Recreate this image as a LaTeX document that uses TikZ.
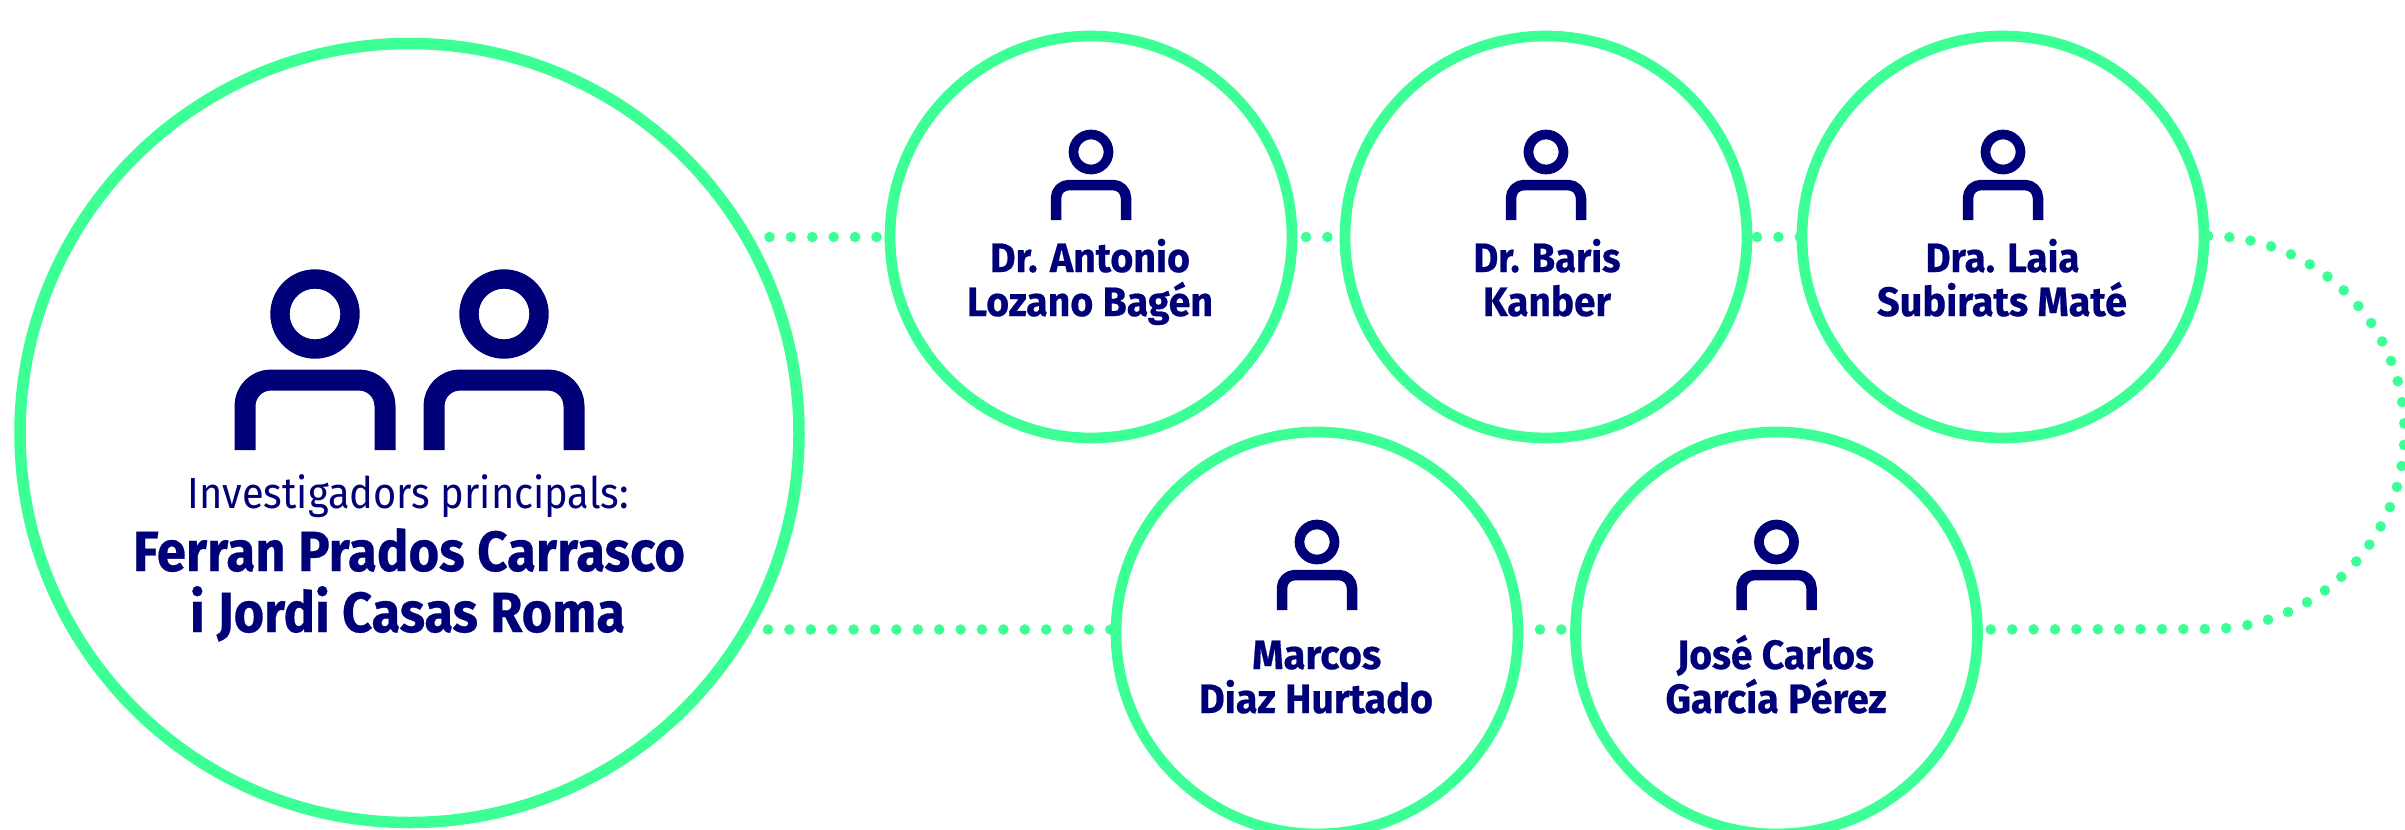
\documentclass[tikz,border=0pt]{standalone}
\usepackage{fontspec}
\usepackage{graphicx}
\setmainfont{Fira Sans}[BoldFeatures={FakeBold=0.5}]
\definecolor{ringgreen}{HTML}{3CFF96}
\definecolor{navyink}{HTML}{000078}
% line of text fitted to a width given in reference pixels
\newcommand{\fitw}[3]{\resizebox{#1\dimexpr 0.5pt\relax}{\height}{\fontsize{#2}{#2}\selectfont #3}}
\tikzset{
  ring/.style={circle,draw=ringgreen,line width=5.35pt,minimum size=201pt,inner sep=0pt,outer sep=0pt},
  bigring/.style={ring,line width=5.75pt,minimum size=389.5pt},
  dotline/.style={draw=ringgreen,line width=5.3pt,line cap=round,dash pattern=on 0pt off 10.7pt},
  lbl/.style={anchor=base,inner sep=0pt,outer sep=0pt,text=navyink,font=\bfseries},
  thinlbl/.style={lbl,font=\mdseries},
}
\newcommand{\persona}[3]{%
  \begin{scope}[shift={(#1,#2)},scale=#3,navyink]
    \draw[line width=#3*4.85pt] (0,0) circle[radius=17.5];
    \draw[line width=#3*5.25pt,line join=round,rounded corners=#3*6.5pt] (-35,68) -- (-35,33) -- (35,33) -- (35,68);
  \end{scope}}
\begin{document}
\begin{tikzpicture}[x=0.5pt,y=-0.5pt]
\clip (0,0) rectangle (2405,830);
% circles
\node[bigring] (big) at (409.5,433) {};
\node[ring] (c1) at (1091,237) {};
\node[ring] (c2) at (1546,237) {};
\node[ring] (c3) at (2003,237) {};
\node[ring] (c4) at (1317,633) {};
\node[ring] (c5) at (1776.5,633) {};
% connectors
\coordinate (bend) at (2208,236);
\draw[dotline,shorten <=11.35pt,shorten >=5pt] (big.30 |- c1.west) -- (c1.west);
\draw[dotline,shorten <=7pt,shorten >=8pt] (c1.east) -- (c2.west);
\draw[dotline,shorten <=5pt] (c2.east) -- (c3.west);
\draw[dotline,shorten >=6pt] (bend) arc[start angle=-90,end angle=90,radius=196.5] -- (c5.1);
\draw[dotline,shorten <=11pt,shorten >=6.5pt] (c4.1) -- (c5.179);
\draw[dotline,shorten <=10.6pt] (big.330 |- c4.179) -- (c4.179);
% icons
\persona{315}{314}{2}
\persona{504}{314}{2}
\persona{1091}{152}{1}
\persona{1546}{152}{1}
\persona{2003}{152}{1}
\persona{1317}{542}{1}
\persona{1776.5}{542}{1}
% texts
\node[thinlbl] (t0) at (408.5,508) {\fitw{441}{21.75pt}{Investigadors principals:}};
\node[lbl] (t1) at (409,571) {\fitw{552}{28.3pt}{Ferran Prados Carrasco}};
\node[lbl] (t2) at (407.5,632) {\fitw{435}{28.3pt}{i Jordi Casas Roma}};
\node[lbl] (a1) at (1090,272) {\fitw{200}{20.5pt}{Dr. Antonio}};
\node[lbl] (a2) at (1090,316) {\fitw{246}{20.5pt}{Lozano Bagén}};
\node[lbl] (b1) at (1547,272) {\fitw{147}{20.5pt}{Dr. Baris}};
\node[lbl] (b2) at (1547,316) {\fitw{128}{20.5pt}{Kanber}};
\node[lbl] (l1) at (2002.5,272) {\fitw{154}{20.5pt}{Dra. Laia}};
\node[lbl] (l2) at (2002,316) {\fitw{250}{20.5pt}{Subirats Maté}};
\node[lbl] (m1) at (1316.7,669) {\fitw{129}{20.5pt}{Marcos}};
\node[lbl] (m2) at (1316,713) {\fitw{234}{20.5pt}{Diaz Hurtado}};
\node[lbl] (j1) at (1775.4,669) {\fitw{197}{20.5pt}{José Carlos}};
\node[lbl] (j2) at (1776,713) {\fitw{221}{20.5pt}{García Pérez}};
\end{tikzpicture}
\end{document}
